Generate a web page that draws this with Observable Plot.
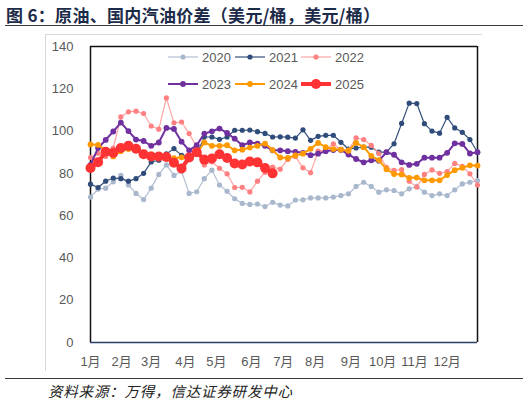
<!DOCTYPE html>
<html>
<head>
<meta charset="utf-8">
<script src="https://cdn.jsdelivr.net/npm/d3@7"></script>
<script src="https://cdn.jsdelivr.net/npm/@observablehq/plot@0.6"></script>
<style>
  body { margin: 0; width: 529px; height: 403px; position: relative; overflow: hidden; background: #fff;
         font-family: "Liberation Sans", "Noto Sans CJK SC", sans-serif; }
  #title { position: absolute; left: 6px; top: 2px; font: bold 17px "Noto Sans CJK SC", sans-serif; color: #1c2b4a; white-space: nowrap; letter-spacing: 0.3px; }
  #rule-top { position: absolute; left: 5px; top: 25px; width: 518px; border-top: 1.5px solid #3a3a3a; }
  #frame { position: absolute; left: 45px; top: 34px; width: 436px; height: 336px; border-top: 1px solid #d9d9d9; border-left: 1px solid #d9d9d9; }
  #chart { position: absolute; left: 0; top: 34px; }
  #legend { position: absolute; left: 0; top: 0; }
  .item { position: absolute; display: flex; align-items: center; font-size: 13px; color: #595959; height: 16px; }
  .item svg { margin-right: 4px; }
  #rule-bottom { position: absolute; left: 5px; top: 378px; width: 518px; border-top: 1.5px solid #3a3a3a; }
  #source { position: absolute; left: 48px; top: 380px; font: italic 14.5px "Noto Sans CJK SC", sans-serif; color: #222; white-space: nowrap; letter-spacing: 0.8px; }
</style>
</head>
<body>
<div id="title">图 6：原油、国内汽油价差（美元/桶，美元/桶）</div>
<div id="rule-top"></div>
<div id="frame"></div>
<div id="chart"></div>
<div id="legend"></div>
<div id="rule-bottom"></div>
<div id="source">资料来源：万得，信达证券研发中心</div>
<script>
// 周度数据，每年第 i 周
const years = ["2020", "2021", "2022", "2023", "2024", "2025"]

const v2020 = [68.8, 72.5, 73, 76, 79, 74.5, 70.5, 67.6, 73, 79.5, 84, 79, 81, 70.5, 71.3, 77.5, 81.5, 74.5, 71.5, 68,
  65.8, 65.3, 65.5, 64.3, 66.3, 65, 64.6, 67.4, 67.5, 68.4, 68.4, 68.4, 68.8, 69.5, 70.3, 73.8, 75.8, 73.8, 71.1, 72.2,
  71.9, 70.3, 72.7, 73.8, 71.1, 69.5, 70.3, 69.5, 72.2, 75, 75.8, 76.6]
const v2021 = [74.9, 73.3, 76.3, 77.8, 77.5, 76.3, 77.5, 80, 85.4, 86.2, 89.2, 91.7, 88.5, 88.3, 89, 97.2, 97.2, 96.1, 97.2, 100.4,
  100.4, 100.5, 99.7, 98.9, 97.2, 97.3, 97.1, 96.7, 100.6, 95.6, 97.5, 98, 98, 94.7, 91.5, 92, 92.4, 92.4, 90, 90,
  94, 103.6, 113.2, 113, 103.5, 100, 99, 106.5, 101.5, 99.4, 96, 90]
const v2022 = [87.5, 89.5, 88, 92, 106.7, 109.1, 109.4, 108.3, 102.4, 100.9, 115.7, 103.9, 104.3, 98.8, 92.5, 84, 85.5, 82.4, 79.8, 73.3,
  73.4, 71.2, 76.3, 80.5, 83, 82, 86.6, 88, 82.6, 80.3, 90.5, 91, 94, 90.9, 91, 96.8, 96, 93.2, 89.4, 82.8,
  81.4, 81.8, 76.3, 73.5, 79.5, 81.6, 80, 80.8, 84.7, 83.3, 79.8, 74.5]
const v2023 = [84, 92, 95.8, 99.8, 104, 100, 96, 95.3, 93, 94.6, 101.5, 101, 95, 90.9, 93.3, 98.8, 99.9, 101.2, 99.1, 96.4,
  93.3, 94.6, 94.1, 93, 90.9, 90.9, 90.5, 90.2, 89.7, 88.6, 89.3, 90.5, 91, 91.2, 88.9, 86.8, 85.2, 86.2, 86, 90,
  88.8, 85.2, 84, 84.5, 87.4, 87.4, 87.4, 89.7, 94.2, 93.9, 89.4, 90]
const v2024 = [93.7, 93.5, 91, 88, 90.5, 91.5, 91, 89.8, 89, 87.8, 87, 87.2, 87.6, 87.5, 89.3, 94.6, 93, 93, 93.3, 90.9,
  91.2, 92.2, 93, 94.1, 91, 87.5, 87.3, 88.5, 89.3, 91.6, 94.4, 92.4, 91.5, 91.2, 90.7, 94.4, 92.4, 88.3, 86.3, 82,
  79.7, 79.5, 77.9, 78, 76.7, 76.7, 76.7, 79.2, 81.5, 82.6, 83.8, 83.7]
const v2025 = [82.5, 85.3, 90.2, 89.7, 92, 93, 91.6, 89, 88, 88, 87.7, 85, 82.3, 87.5, 90, 86.5, 87, 89, 87.3, 84.7,
  84.2, 85.6, 85.2, 82.5, 80]

const monthLabels = ["1月", "2月", "3月", "4月", "5月", "6月", "7月", "8月", "9月", "10月", "11月", "12月"]
const monthTicks = [0, 4.1, 8, 12.5, 16.6, 21.2, 25.4, 29.6, 34.3, 38.5, 42.7, 47]   // 以周为单位
const yTicks = [0, 20, 40, 60, 80, 100, 120, 140]
const xDomain = [0, 51]

const seriesValues = [v2020, v2021, v2022, v2023, v2024, v2025]
const styles = {
  "2020": {line: "#b4c0d3", dot: "#a9b7cc", w: 1.2, r: 2.6},
  "2021": {line: "#34507c", dot: "#2f4c7a", w: 1.2, r: 2.6},
  "2022": {line: "#ffa3a3", dot: "#ff8080", w: 1.2, r: 2.6},
  "2023": {line: "#7030a0", dot: "#7030a0", w: 2, r: 2.9},
  "2024": {line: "#ff9900", dot: "#ff9900", w: 2, r: 2.9},
  "2025": {line: "#ff3333", dot: "#ff3333", w: 4, r: 5}
}

const rows = years.flatMap((year, k) => seriesValues[k].map((v, i) => ({week: i, value: v, year})))
const labelOf = new Map(monthTicks.map((t, i) => [t, monthLabels[i]]))

const marks = [
  Plot.ruleX([xDomain[0], xDomain[1]], {stroke: "#111", strokeWidth: 1.5}),
  Plot.ruleY([yTicks[yTicks.length - 1]], {stroke: "#111", strokeWidth: 1.5}),
  Plot.ruleY([0], {stroke: "#2a3f6a", strokeWidth: 1.5})
]
years.forEach(year => {
  const s = styles[year]
  const d = rows.filter(r => r.year === year)
  marks.push(Plot.line(d, {x: "week", y: "value", stroke: s.line, strokeWidth: s.w}))
  marks.push(Plot.dot(d, {x: "week", y: "value", r: s.r, fill: s.dot, stroke: "none"}))
})

let chart = Plot.plot({
  width: 529,
  height: 344,
  marginLeft: 90,
  marginRight: 52,
  marginTop: 12,
  marginBottom: 36,
  style: {fontFamily: '"Liberation Sans", "Noto Sans CJK SC", sans-serif', fontSize: "13px", color: "#595959", background: "transparent"},
  x: {domain: xDomain, ticks: monthTicks, tickFormat: d => labelOf.get(d), tickSize: 0, tickPadding: 14, label: null},
  y: {domain: [0, 140], ticks: yTicks, tickSize: 0, tickPadding: 17, label: null},
  marks
})
d3.select("#chart").append(() => chart)

// 图例（两行三列）
const legendPos = [[168, 57], [235, 57], [301, 57], [168, 84], [235, 84], [301, 84]]
years.forEach((year, k) => {
  const s = styles[year]
  const [lx, ly] = legendPos[k]
  const item = d3.select("#legend").append("div").attr("class", "item")
    .style("left", lx + "px").style("top", (ly - 8) + "px")
  const svg = item.append("svg").attr("width", 30).attr("height", 12)
  svg.append("line").attr("x1", 0).attr("x2", 30).attr("y1", 6).attr("y2", 6)
    .attr("stroke", s.line).attr("stroke-width", s.w)
  svg.append("circle").attr("cx", 15).attr("cy", 6).attr("r", s.r).attr("fill", s.dot)
  item.append("span").text(year)
})
</script>
</body>
</html>
